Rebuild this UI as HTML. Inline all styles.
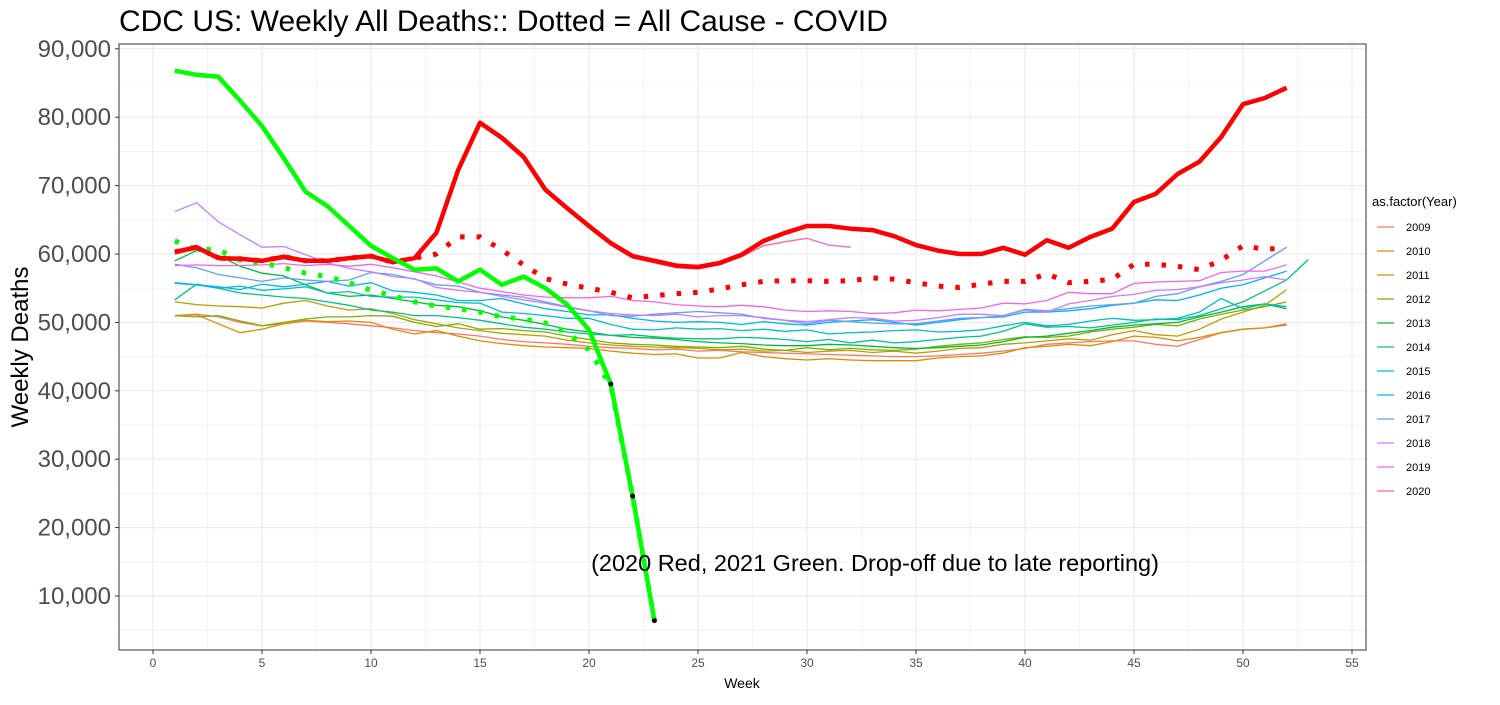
<!DOCTYPE html>
<html><head><meta charset="utf-8"><style>
body{margin:0;background:#fff;font-family:"Liberation Sans",sans-serif}
svg text{font-family:"Liberation Sans",sans-serif}
</style></head><body>
<svg id="chart" width="1500" height="700" viewBox="0 0 1500 700" xmlns="http://www.w3.org/2000/svg">
<text x="119" y="31" font-size="30" fill="#000">CDC US: Weekly All Deaths:: Dotted = All Cause - COVID</text>
<g id="grid"></g>
<g id="bg"></g>
<g id="main"></g>
<rect x="119" y="44" width="1247" height="606" fill="none" stroke="#333" stroke-width="1"/>
<g id="axes"></g>
<text transform="translate(28,347) rotate(-90)" text-anchor="middle" font-size="24" fill="#000">Weekly Deaths</text>
<text x="742" y="688" text-anchor="middle" font-size="14" fill="#000">Week</text>
<text x="875" y="571" text-anchor="middle" font-size="23.5" fill="#000">(2020 Red, 2021 Green. Drop-off due to late reporting)</text>
<g id="legend"></g>
</svg>
<script>
const years=["2009","2010","2011","2012","2013","2014","2015","2016","2017","2018","2019","2020"];
const colors=["#F8766D","#DE8C00","#B79F00","#7CAE00","#00BA38","#00C08B","#00BFC4","#00B4F0","#619CFF","#C77CFF","#F564E3","#FF64B0"];
const xTicks=[0,5,10,15,20,25,30,35,40,45,50,55];
const yTicks=[10000,20000,30000,40000,50000,60000,70000,80000,90000];
const y2009=[51000,51200,50800,50000,49500,49800,50200,50000,49800,49500,49200,48800,48500,48300,48000,47500,47200,47000,46800,46500,46300,46200,46000,46100,45800,45900,45700,45600,45500,45400,45300,45200,45100,45000,45000,45100,45300,45500,45800,46200,46800,47000,47200,47300,47300,46800,46500,47500,48500,49000,49200,49600];
const y2010=[51000,51100,49800,48500,49000,49800,50300,50100,50200,50000,49000,48300,48800,48000,47300,46900,46600,46400,46300,46200,45800,45500,45300,45400,44800,44800,45600,45000,44700,44500,44700,44500,44400,44400,44400,44800,45000,45100,45500,46300,46500,46800,46600,47200,48000,47800,47300,47800,48500,49000,49200,49800];
const y2011=[53000,52600,52400,52300,52100,52800,53200,52400,51800,52000,51300,50400,49800,49200,48800,48400,48200,48000,47400,47000,46700,46500,46400,46300,46200,46000,46100,45800,45900,45600,45800,45900,45600,45800,45500,45800,46200,46300,46800,47000,47300,47600,47400,48200,48800,48200,48000,49000,50500,51500,52500,54800];
const y2012=[51000,50800,51000,50200,49500,50000,50500,50800,50800,51000,50900,50000,49400,49800,49000,49100,48800,48600,48000,47500,47000,46800,46700,46500,46400,46300,46500,46100,45900,46300,46000,46200,46000,45900,46100,46500,46800,47000,47500,47900,47800,48000,48600,49000,49300,49700,49500,50500,51200,51800,52300,53000];
const y2013=[59000,60500,59800,58200,57200,56800,55500,54300,53800,54000,53500,53000,52500,52300,51700,50800,50300,49700,49000,48600,48100,47800,47700,47500,47200,47000,46900,46700,46600,46600,46800,46700,46500,46300,46200,46300,46500,46700,47200,47800,48000,48400,48800,49300,49600,49800,50000,50800,51500,52300,52700,52000];
const y2014=[53300,55600,55000,54300,54000,53700,53500,53000,52500,51800,51500,51000,51000,50700,50300,49800,49300,49000,48600,48300,48100,48200,47900,47700,47600,47600,47800,47700,47500,47200,47500,47000,47400,47000,47200,47500,47800,48000,48700,49800,49300,49400,49200,49600,50000,50500,50400,51000,52000,53000,54600,56200,59200];
const y2015=[55700,55500,55000,55300,54700,54900,55200,54300,54500,53800,53700,53700,53300,52900,52800,51500,51300,51000,50600,50600,49700,49000,48900,49200,49000,49100,48800,49000,48700,48900,48300,48500,48600,48800,48900,48600,48700,48900,49500,50000,49500,49700,50200,50600,50300,50400,50600,51500,53500,52000,52700,52300];
const y2016=[55800,55500,55200,54800,55600,55200,55600,56000,55300,55800,54600,54400,54000,53200,53200,53500,52700,52000,51600,51100,51100,50600,50200,50000,50100,50000,49700,50100,49800,49600,50000,50200,50400,50000,49600,50000,50400,50700,50800,51500,51500,51700,52000,52500,52800,53300,53200,54000,55000,55500,56500,57500];
const y2017=[58500,58000,57000,56500,56000,56500,56200,56000,56200,57300,57000,56300,55500,55300,54400,54000,53700,53000,52300,51700,51000,50900,51200,51400,51600,51400,51200,50600,50300,49800,50300,50100,49900,49800,49800,50200,50600,50700,51000,51900,51700,52000,52400,52600,52800,53800,54200,55200,56000,57000,59000,61000];
const y2018=[66200,67500,64700,62800,61000,61100,59900,58700,57900,57400,56700,56400,55100,54700,54400,53800,53300,52800,52200,51700,51300,51100,51000,51200,50800,51000,51000,50700,50300,50100,50400,50700,50600,50200,50300,50700,51200,51200,51000,51800,51500,52700,53200,53800,54100,54700,54800,55200,55800,56200,56700,56200];
const y2019=[58300,58400,58300,58300,58400,58600,58300,58500,58200,58500,58000,57400,56800,55900,55000,54500,54000,53700,53600,53600,53800,53200,53000,52600,52400,52300,52500,52300,51800,51600,51700,51600,51300,51400,51800,51700,51900,52100,52800,52700,53200,54400,54200,54200,55700,55900,56000,56100,57300,57500,57500,58400];
const y2020=[60000,60700,59200,59100,58800,59300,58800,58800,59200,59500,58600,59200,62800,72000,78900,76700,73900,69100,66400,63800,61300,59400,58700,58000,57800,58400,59600,61200,61800,62300,61300,61000];
const red2020=[60300,61000,59400,59300,59000,59600,59000,59000,59400,59700,58800,59400,63100,72300,79200,77000,74200,69400,66700,64100,61600,59700,59000,58300,58100,58700,59900,61900,63100,64100,64100,63700,63500,62600,61300,60500,60000,60000,60900,59900,62000,60900,62500,63700,67600,68800,71700,73500,77100,81900,82800,84300];
const redDot=[60300,61000,59400,59300,59000,59600,59000,59000,59400,59700,58800,59400,60000,62500,62500,60600,58400,56400,55600,55000,54400,53600,53900,54200,54400,54900,55500,56000,56100,56100,56000,56100,56500,56300,55800,55300,55100,55600,56000,56000,57100,55800,56000,56300,58500,58500,58200,57700,59100,61200,60700,60900];
const green2021=[86800,86200,85900,82400,78700,74000,69100,67000,64100,61200,59400,57700,57900,56000,57700,55500,56700,55000,52600,48900,41000,24600,6400];
const greenDot=[61900,60700,60600,59100,58700,58000,57200,56700,55800,54700,53900,53000,52400,52000,51500,50800,50500,49900,48500,46000,40700,24600,6400];
const yearSeries=[y2009,y2010,y2011,y2012,y2013,y2014,y2015,y2016,y2017,y2018,y2019,y2020];
const NS="http://www.w3.org/2000/svg";
function X(w){return 153+w*21.8;}
function Y(v){return 664.4-v*0.00684;}
function mk(tag,attrs,parent){const e=document.createElementNS(NS,tag);for(const k in attrs)e.setAttribute(k,attrs[k]);parent.appendChild(e);return e;}
const grid=document.getElementById('grid');
for(let v=5000;v<=95000;v+=5000){const y=Y(v);if(y<44||y>650)continue;
 const l=mk('line',{x1:119,x2:1366,y1:y,y2:y,stroke:'#ebebeb','stroke-width':v%10000===0?1.2:0.6},grid);
 
 }
for(let w=-2.5;w<=57.5;w+=2.5){const x=X(w);if(x<119||x>1366)continue;
 const l=mk('line',{x1:x,x2:x,y1:44,y2:650,stroke:'#ebebeb','stroke-width':w%5===0?1.2:0.6},grid);
 
 }
function pts(arr){return arr.map((v,i)=>X(i+1).toFixed(1)+','+Y(v).toFixed(1)).join(' ');}
const bg=document.getElementById('bg');
yearSeries.forEach((s,i)=>{const p=mk('polyline',{points:pts(s),fill:'none',stroke:colors[i],'stroke-width':1.3},bg);
 
 });
const main=document.getElementById('main');
let p;
p=mk('polyline',{points:pts(redDot),fill:'none',stroke:'#ff0000','stroke-width':5,'stroke-dasharray':'4.5 12'},main);


p=mk('polyline',{points:pts(greenDot),fill:'none',stroke:'#00ff00','stroke-width':5,'stroke-dasharray':'4.5 12'},main);


p=mk('polyline',{points:pts(red2020),fill:'none',stroke:'#ff0000','stroke-width':4.5,'stroke-linejoin':'round'},main);


p=mk('polyline',{points:pts(green2021),fill:'none',stroke:'#00ff00','stroke-width':4.5,'stroke-linejoin':'round'},main);


[20,21,22].forEach(i=>{const c=mk('circle',{cx:X(i+1),cy:Y(green2021[i]),r:2.5,fill:'#000'},main);
 
 });
const axes=document.getElementById('axes');
yTicks.forEach(v=>{const t=mk('text',{x:111,y:Y(v)+8,'text-anchor':'end','font-size':24,fill:'#4d4d4d'},axes);t.textContent=v.toLocaleString('en-US');
 
 
 const k=mk('line',{x1:115,x2:119,y1:Y(v),y2:Y(v),stroke:'#333'},axes);
 
 });
xTicks.forEach(w=>{const t=mk('text',{x:X(w),y:667,'text-anchor':'middle','font-size':12,fill:'#4d4d4d'},axes);t.textContent=w;
 
 
 const k=mk('line',{x1:X(w),x2:X(w),y1:650,y2:654,stroke:'#333'},axes);
 
 });
const lg=document.getElementById('legend');
const lt=mk('text',{x:1372,y:206,'font-size':13,fill:'#000'},lg);lt.textContent='as.factor(Year)';


years.forEach((yr,i)=>{const yy=227+i*24;
 const l=mk('line',{x1:1377,x2:1394,y1:yy,y2:yy,stroke:colors[i],'stroke-width':1.3},lg);
 
 
 const t=mk('text',{x:1406,y:yy+4,'font-size':11,fill:'#000'},lg);t.textContent=yr;
 
 });
</script>
</body></html>
